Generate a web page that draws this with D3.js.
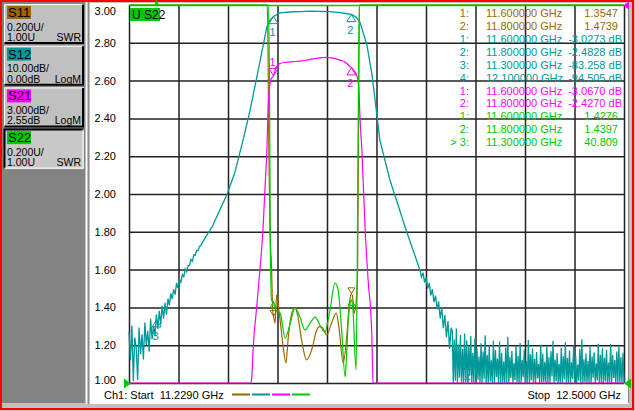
<!DOCTYPE html>
<html>
<head>
<meta charset="utf-8">
<script src="https://cdn.jsdelivr.net/npm/d3@7"></script>
<style>
  html, body { margin: 0; padding: 0; background: #c0c0c0; overflow: hidden; }
  svg { display: block; font-family: "Liberation Sans", Arial, sans-serif; }
  text { white-space: pre; }
</style>
</head>
<body>
<svg id="vna" width="635" height="411"></svg>
<script>
// Sweep and channel settings
const startGHz = 11.229;
const stopGHz = 12.5;
const swrTicks = [1.0, 1.2, 1.4, 1.6, 1.8, 2.0, 2.2, 2.4, 2.6, 2.8, 3.0];

// Left panel (trace settings)
const panelNames = ["S11", "S12", "S21", "S22"];
const panelScale = ["0.200U/", "10.00dB/", "3.000dB/", "0.200U/"];
const panelRef = ["1.00U", "0.00dB", "2.55dB", "1.00U"];
const panelFormat = ["SWR", "LogM", "LogM", "SWR"];
const traceColors = ["#9c6600", "#009999", "#ff00ff", "#00c800"];

// S11 trace, SWR (off-scale values sit on the top edge)
const s11Trace = [
  [11.229, 9], [11.580, 9], [11.584, 4.0], [11.586, 2.76], [11.588, 2.233], [11.591, 1.809],
  [11.595, 1.614], [11.598, 1.386], [11.600, 1.355], [11.604, 1.317], [11.608, 1.466],
  [11.612, 1.413], [11.617, 1.333], [11.625, 1.190], [11.632, 1.106], [11.638, 1.243],
  [11.647, 1.370], [11.655, 1.397], [11.663, 1.349], [11.672, 1.228], [11.685, 1.122],
  [11.698, 1.175], [11.711, 1.280], [11.718, 1.298], [11.724, 1.296], [11.737, 1.254],
  [11.749, 1.317], [11.761, 1.370], [11.768, 1.296], [11.779, 1.106], [11.788, 1.243],
  [11.795, 1.423], [11.800, 1.474], [11.804, 1.439], [11.807, 1.370], [11.812, 1.423],
  [11.816, 1.598], [11.818, 2.233], [11.821, 5], [12.5, 9]
];

// S12 trace, dB: noisy low side (sweep points), skirt/passband, noise floor (sweep points)
const s12LowStart = 11.229, s12LowStep = 0.0037;
const s12Low = [
  -86.5, -94.0, -84.8, -99.5, -88.0, -90.6, -99.2, -85.3, -92.4, -87.1,
  -93.8, -84.0, -89.9, -86.2, -91.7, -83.1, -88.4, -84.9, -87.6, -81.8,
  -85.7, -80.9, -84.6, -79.6, -83.0, -78.8, -81.9, -77.7, -79.4, -76.3,
  -77.8, -75.2, -76.6, -73.5, -74.9, -72.6, -73.4, -71.3, -71.9, -69.8,
  -70.6, -69.0, -68.9, -67.3, -67.8, -66.1, -66.2, -64.9, -65.0, -63.8,
  -63.6, -62.7, -62.2, -61.5, -60.9, -60.3, -59.8, -59.0, -58.5, -57.6
];
const s12Main = [
  [11.481, -50.0], [11.500, -44.6], [11.522, -35.7], [11.540, -27.8], [11.565, -15.1],
  [11.583, -5.8], [11.591, -4.0], [11.600, -3.03], [11.617, -2.1], [11.642, -1.85],
  [11.668, -1.75], [11.694, -1.6], [11.719, -1.7], [11.745, -1.75], [11.771, -2.0],
  [11.786, -2.25], [11.800, -2.48], [11.812, -3.2], [11.822, -4.5], [11.832, -7.9],
  [11.840, -10.6], [11.853, -18.5], [11.866, -29.6], [11.873, -35.7], [11.899, -46.3],
  [11.943, -60.3], [11.976, -70.1], [11.980, -72.0], [11.984, -70.8], [11.988, -73.4],
  [11.992, -72.1], [11.996, -75.0], [12.000, -73.6], [12.004, -76.8], [12.008, -75.2],
  [12.012, -78.6], [12.016, -76.9], [12.020, -80.5], [12.024, -78.4], [12.028, -82.9],
  [12.032, -80.1], [12.036, -85.5], [12.040, -82.0], [12.044, -87.9], [12.048, -83.6],
  [12.052, -91.0], [12.056, -85.4]
];
const s12FloorStart = 12.059, s12FloorStop = 12.5;
const s12FloorPeaks = [
  -86.2, -88.5, -85.6, -89.8, -87.3, -91.0, -86.9, -88.7, -90.4, -87.6, -92.1, -88.2,
  -90.8, -93.0, -89.5, -91.7, -87.4, -92.6, -90.1, -94.0, -88.8, -91.3, -93.5, -89.0,
  -92.0, -94.3, -90.6, -87.8, -93.1, -91.5, -94.7, -90.2, -92.8, -89.4, -93.9, -91.1,
  -94.2, -88.6, -92.4, -90.9, -93.6, -91.8, -95.0, -89.9, -92.3, -94.4, -90.4, -93.2,
  -91.6, -88.9, -93.8, -92.1, -94.9, -90.7, -92.9, -89.2, -93.4, -91.4, -94.5, -90.0,
  -92.7, -95.1, -91.0, -88.4, -93.7, -92.2, -94.1, -90.5, -93.0, -91.9, -94.8, -89.6,
  -92.5, -90.8, -93.3, -91.2, -94.6, -89.7, -92.6, -93.9, -91.7, -90.3, -93.1, -92.0
];
const s12FloorDips = [
  -101.2, -99.4, -103.5, -98.6, -100.9, -104.1, -99.8, -102.3, -98.1, -101.7, -100.2, -103.8,
  -99.1, -102.6, -100.5, -98.9, -104.4, -101.0, -99.6, -102.9, -100.3, -98.4, -103.1, -101.5,
  -99.9, -102.0, -100.7, -104.6, -98.7, -101.3, -99.2, -103.4, -100.1, -102.7, -98.5, -101.8,
  -100.6, -103.9, -99.3, -102.1, -100.0, -98.8, -104.0, -101.4, -99.7, -102.4, -100.4, -103.0,
  -98.3, -101.6, -99.5, -102.8, -100.8, -104.3, -99.0, -101.9, -100.2, -103.6, -98.9, -102.2,
  -100.9, -99.4, -103.3, -101.1, -99.8, -102.5, -100.6, -104.2, -98.6, -101.2, -99.3, -103.7,
  -100.3, -102.0, -99.6, -101.5, -104.5, -100.1, -98.7, -102.6, -100.5, -103.2, -99.9, -101.0
];

// S21 trace, dB (below -27.45 dB sits on the bottom edge)
const s21Trace = [
  [11.229, -32], [11.541, -32], [11.542, -28], [11.544, -27.1], [11.548, -24.6],
  [11.557, -21.4], [11.565, -18.5], [11.573, -15.3], [11.578, -12.1], [11.583, -8.96],
  [11.587, -4.99], [11.594, -3.3], [11.600, -3.07], [11.606, -2.45], [11.617, -2.08],
  [11.633, -2.0], [11.650, -1.95], [11.668, -1.9], [11.685, -1.82], [11.707, -1.70],
  [11.737, -1.60], [11.753, -1.66], [11.771, -1.82], [11.784, -1.97], [11.797, -2.35],
  [11.800, -2.43], [11.809, -2.74], [11.814, -3.08], [11.818, -3.66], [11.820, -4.59],
  [11.822, -6.32], [11.827, -8.96], [11.835, -15.05], [11.843, -19.3], [11.852, -23.2],
  [11.856, -27.4], [11.858, -32], [12.5, -32]
];

// S22 trace, SWR
const s22Trace = [
  [11.229, 9], [11.585, 9], [11.587, 3.5], [11.590, 2.497], [11.592, 1.704], [11.595, 1.439],
  [11.600, 1.428], [11.606, 1.386], [11.617, 1.370], [11.630, 1.238], [11.642, 1.307],
  [11.655, 1.397], [11.668, 1.349], [11.681, 1.280], [11.694, 1.317], [11.707, 1.349],
  [11.719, 1.307], [11.732, 1.270], [11.745, 1.386], [11.758, 1.529], [11.766, 1.492],
  [11.775, 1.280], [11.784, 1.032], [11.788, 1.159], [11.792, 1.333], [11.797, 1.423],
  [11.800, 1.440], [11.804, 1.386], [11.812, 1.069], [11.815, 1.598], [11.818, 2.497],
  [11.820, 4], [12.5, 9]
];

// Markers [GHz, value]
const s11Markers = [[11.6, 1.3547], [11.8, 1.4739]];
const s12Markers = [[11.6, -3.0273], [11.8, -2.4828], [11.3, -83.258], [12.1, -94.505]];
const s21Markers = [[11.6, -3.0670], [11.8, -2.4270]];
const s22Markers = [[11.6, 1.4276], [11.8, 1.4397], [11.3, 40.809]];

// Marker readout table
const tableTrace = [0, 0, 1, 1, 1, 1, 2, 2, 3, 3, 3];
const tableIds = ["1:", "2:", "1:", "2:", "3:", "4:", "1:", "2:", "1:", "2:", "> 3:"];
const tableFreqs = ["11.600000 GHz", "11.800000 GHz", "11.600000 GHz", "11.800000 GHz",
  "11.300000 GHz", "12.100000 GHz", "11.600000 GHz", "11.800000 GHz", "11.600000 GHz",
  "11.800000 GHz", "11.300000 GHz"];
const tableVals = ["1.3547", "1.4739", "-3.0273 dB", "-2.4828 dB", "-83.258 dB", "-94.505 dB",
  "-3.0670 dB", "-2.4270 dB", "1.4276", "1.4397", "40.809"];

const svg = d3.select("#vna");
const plot = { left: 129, right: 624, top: 5, bottom: 383 };

// Window frame and panels
svg.append("rect").attr("width", 635).attr("height", 411).attr("fill", "#c0c0c0");
svg.append("rect").attr("x", 2).attr("y", 2).attr("width", 83).attr("height", 401).attr("fill", "#838383");
svg.append("rect").attr("x", 90).attr("y", 3).attr("width", 538).attr("height", 400).attr("fill", "#fff");
svg.append("line").attr("x1", 86.5).attr("x2", 86.5).attr("y1", 2).attr("y2", 404).attr("stroke", "#fff");
svg.append("line").attr("x1", 88.5).attr("x2", 88.5).attr("y1", 2).attr("y2", 404).attr("stroke", "#8a8a8a");
svg.append("line").attr("x1", 628.5).attr("x2", 628.5).attr("y1", 3).attr("y2", 404).attr("stroke", "#8a8a8a");
svg.append("line").attr("x1", 90).attr("x2", 629).attr("y1", 403.5).attr("y2", 403.5).attr("stroke", "#fff");
svg.append("rect").attr("x", 1).attr("y", 1).attr("width", 632).attr("height", 408)
  .attr("fill", "none").attr("stroke", "#ff0000").attr("stroke-width", 2);

// Trace setting buttons
const buttons = svg.append("g").selectAll("g").data(panelNames).join("g")
  .attr("transform", (d, i) => `translate(4,${4 + i * 41.7})`);
buttons.append("rect").attr("width", 80).attr("height", 40)
  .attr("fill", (d, i) => i === 3 ? "#c8c8c8" : "#c0c0c0");
buttons.append("path")
  .attr("d", "M0.5,39.5 V0.5 H79.5")
  .attr("fill", "none").attr("stroke-width", (d, i) => i === 3 ? 2 : 1)
  .attr("stroke", (d, i) => i === 3 ? "#000" : "#fff");
buttons.append("path")
  .attr("d", "M0.5,39 H79 V0.5")
  .attr("fill", "none").attr("stroke-width", (d, i) => i === 3 ? 1 : 2)
  .attr("stroke", (d, i) => i === 3 ? "#fff" : "#000");
buttons.append("rect").attr("x", 3).attr("y", 2).attr("width", 24).attr("height", 13)
  .attr("fill", (d, i) => traceColors[i]);
buttons.append("text").attr("x", 4).attr("y", 13).attr("font-size", 13).text(d => d);
buttons.append("text").attr("x", 3).attr("y", 26.5).attr("font-size", 10.5).text((d, i) => panelScale[i]);
buttons.append("text").attr("x", 3).attr("y", 37).attr("font-size", 10.5).text((d, i) => panelRef[i]);
buttons.append("text").attr("x", 77).attr("y", 37).attr("font-size", 10.5).attr("text-anchor", "end")
  .text((d, i) => panelFormat[i]);

// Scales
const x = d3.scaleLinear().domain([startGHz, stopGHz]).range([plot.left, plot.right]);
const ySwr = d3.scaleLinear().domain([1.0, 3.0]).range([plot.bottom, plot.top]).clamp(true);
const yS12 = d3.scaleLinear().domain([-100, 0]).range([plot.bottom, plot.top]).clamp(true);
const yS21 = d3.scaleLinear().domain([2.55 - 30, 2.55]).range([plot.bottom, plot.top]).clamp(true);
const gridX = d3.range(11).map(i => startGHz + i * (stopGHz - startGHz) / 10);

// Grid
svg.append("g").attr("transform", `translate(0,${plot.bottom})`)
  .call(d3.axisBottom(x).tickValues(gridX).tickSize(-(plot.bottom - plot.top)).tickFormat(""))
  .call(g => g.select(".domain").remove())
  .selectAll("line").attr("stroke", "#222").attr("stroke-width", 1.5);
svg.append("g").attr("transform", `translate(${plot.left},0)`)
  .call(d3.axisLeft(ySwr).tickValues(swrTicks).tickSize(-(plot.right - plot.left)).tickFormat(""))
  .call(g => g.select(".domain").remove())
  .selectAll("line").attr("stroke", d => d === 3.0 ? traceColors[3] : "#222").attr("stroke-width", 1.5);

// Y labels (S22 scale)
svg.append("g").attr("transform", "translate(116,0)")
  .call(d3.axisLeft(ySwr).tickValues(swrTicks).tickSize(0).tickPadding(0).tickFormat(d3.format(".2f")))
  .call(g => g.select(".domain").remove())
  .selectAll("text")
  .attr("font-size", 11).attr("font-family", "Liberation Sans, Arial, sans-serif").attr("fill", "#000")
  .attr("y", d => Math.max(plot.top + 6, Math.min(plot.bottom - 3, ySwr(d))) - ySwr(d));

// Traces
const floorVals = s12FloorPeaks.flatMap((p, i) => [p, s12FloorDips[i]]);
const s12Trace = [
  ...s12Low.map((v, i) => [s12LowStart + i * s12LowStep, v]),
  ...s12Main,
  ...floorVals.map((v, i) => [s12FloorStart + i * (s12FloorStop - s12FloorStart) / (floorVals.length - 1), v])
];
const traces = [
  { data: s11Trace, y: ySwr, color: traceColors[0], curve: d3.curveMonotoneX, w: 1.2 },
  { data: s12Trace, y: yS12, color: traceColors[1], curve: d3.curveLinear, w: 1.3 },
  { data: s21Trace, y: yS21, color: traceColors[2], curve: d3.curveMonotoneX, w: 1.2 },
  { data: s22Trace, y: ySwr, color: traceColors[3], curve: d3.curveMonotoneX, w: 1.2 }
];
traces.forEach(t => {
  svg.append("path").datum(t.data)
    .attr("fill", "none").attr("stroke", t.color).attr("stroke-width", t.w)
    .attr("d", d3.line().curve(t.curve).x(d => x(d[0])).y(d => t.y(d[1])));
});

// Marker symbols
const upTri = (px, py, s) => `M${px},${py} L${px - s},${py + s * 1.6} L${px + s},${py + s * 1.6} Z`;
const downTri = (px, py, s) => `M${px},${py} L${px - s},${py - s * 1.6} L${px + s},${py - s * 1.6} Z`;
const mk = svg.append("g").attr("fill", "none").attr("stroke-width", 1).attr("font-size", 11);

s12Markers.forEach((m, i) => {
  const px = x(m[0]), py = yS12(m[1]);
  mk.append("path").attr("d", upTri(px, py, 4.5)).attr("stroke", traceColors[1]);
  mk.append("text").attr("x", px - 1).attr("y", py + 20).attr("text-anchor", "middle")
    .attr("fill", traceColors[1]).text(i + 1);
});
s21Markers.forEach((m, i) => {
  const px = x(m[0]), py = yS21(m[1]);
  if (i === 0) {
    mk.append("path").attr("d", downTri(px, py, 4.5)).attr("stroke", traceColors[2]);
    mk.append("text").attr("x", px - 1).attr("y", py - 10).attr("text-anchor", "middle")
      .attr("fill", traceColors[2]).text(i + 1);
  } else {
    mk.append("path").attr("d", upTri(px, py, 4.5)).attr("stroke", traceColors[2]);
    mk.append("text").attr("x", px - 1).attr("y", py + 19).attr("text-anchor", "middle")
      .attr("fill", traceColors[2]).text(i + 1);
  }
});
s11Markers.forEach(m => {
  const px = x(m[0]), py = ySwr(m[1]);
  mk.append("path").attr("d", downTri(px, py, 3.5)).attr("stroke", traceColors[0]);
});
s22Markers.forEach(m => {
  const px = x(m[0]);
  if (m[1] > 3) {
    mk.append("path").attr("d", `M${px},${plot.top - 5} L${px - 2.5},${plot.top} L${px + 2.5},${plot.top} Z`)
      .attr("fill", traceColors[3]).attr("stroke", "none");
  } else {
    mk.append("path").attr("d", upTri(px, ySwr(m[1]), 3.5)).attr("stroke", traceColors[3]);
  }
});

// Reference level indicators
svg.append("path").attr("d", `M${plot.left + 2},${plot.bottom + 0.5} l-7,-5 v10 Z`).attr("fill", traceColors[3]);
svg.append("path").attr("d", `M${plot.right},${plot.bottom + 0.5} l7,-5 v10 Z`).attr("fill", traceColors[3]);
svg.append("path").attr("d", `M${plot.right - 1},${plot.top + 0.5} l6,-4 v8 Z`).attr("fill", traceColors[2]);

// Active trace label
svg.append("rect").attr("x", 130).attr("y", 8).attr("width", 30).attr("height", 13).attr("fill", traceColors[3]);
svg.append("text").attr("x", 132).attr("y", 19).attr("font-size", 12).attr("fill", "#000").text("U S22");

// Marker readout table
const table = svg.append("g").attr("font-size", 11);
tableIds.forEach((id, i) => {
  const yy = 16.8 + i * 12.95;
  const c = traceColors[tableTrace[i]];
  table.append("text").attr("x", 469).attr("y", yy).attr("text-anchor", "end").attr("fill", c).text(id);
  table.append("text").attr("x", 486).attr("y", yy).attr("fill", c).text(tableFreqs[i]);
  table.append("text").attr("x", tableVals[i].endsWith("dB") ? 622 : 618).attr("y", yy)
    .attr("text-anchor", "end").attr("fill", c).text(tableVals[i]);
});

// Bottom annotation
svg.append("text").attr("x", 104).attr("y", 399).attr("font-size", 11).attr("fill", "#000")
  .text(`Ch1: Start  ${startGHz.toFixed(4)} GHz`);
svg.append("text").attr("x", 621).attr("y", 399).attr("font-size", 11).attr("fill", "#000")
  .attr("text-anchor", "end").text(`Stop  ${stopGHz.toFixed(4)} GHz`);
svg.append("g").selectAll("line").data(traceColors).join("line")
  .attr("x1", (d, i) => 232 + i * 20).attr("x2", (d, i) => 250 + i * 20)
  .attr("y1", 394.5).attr("y2", 394.5)
  .attr("stroke", d => d).attr("stroke-width", 2);
</script>
</body>
</html>
